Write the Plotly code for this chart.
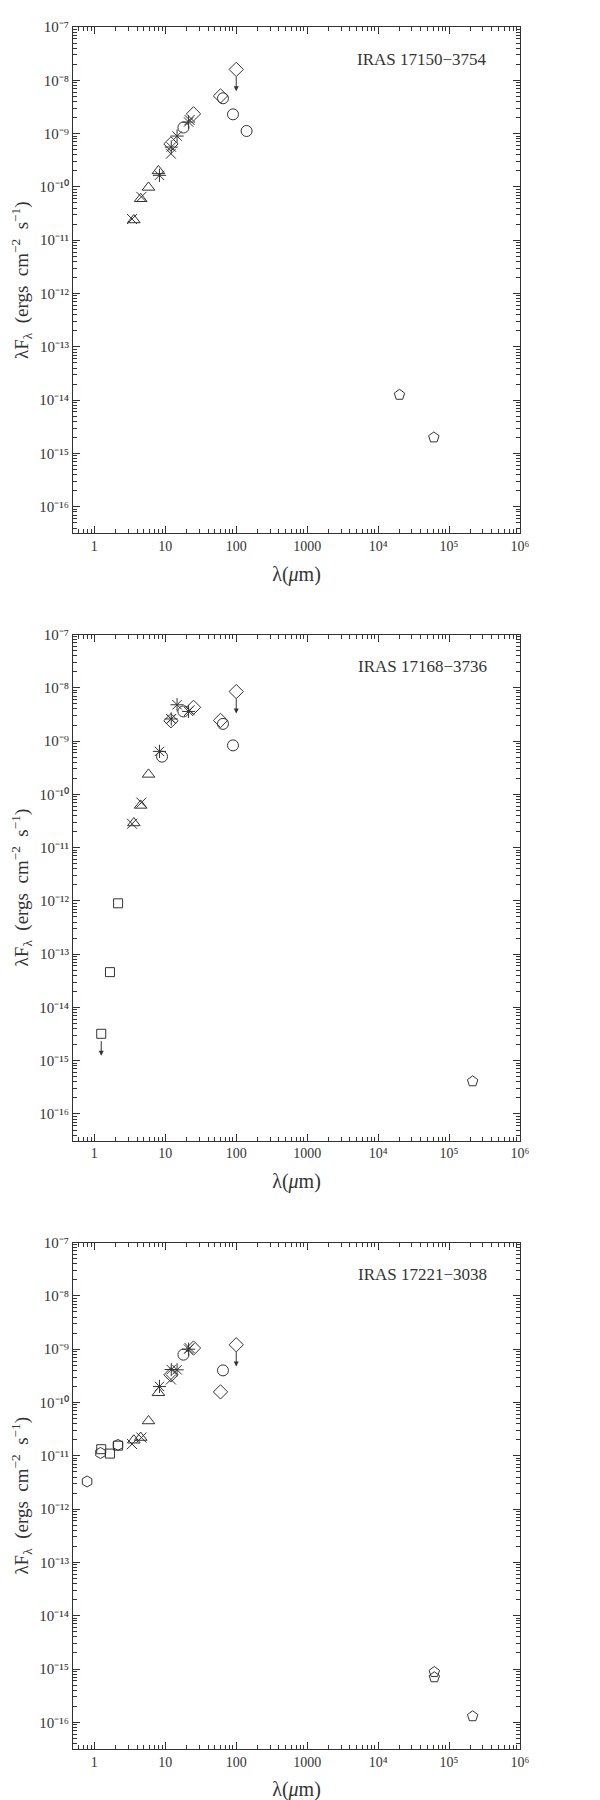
import math
import plotly.graph_objects as go

# ---------------- data ----------------
panel_names = ["IRAS 17150\u22123754", "IRAS 17168\u22123736", "IRAS 17221\u22123038"]

# Panel 1 : IRAS 17150-3754
p1_irac_x = [3.6, 4.5, 5.8, 8.0]
p1_irac_y = [2.4e-11, 6.0e-11, 9.8e-11, 2.0e-10]
p1_wise_x = [3.4, 4.6, 12, 22]
p1_wise_y = [2.5e-11, 6.5e-11, 4.2e-10, 1.8e-9]
p1_msx_x = [8.28, 12.13, 14.65, 21.3]
p1_msx_y = [1.65e-10, 5.6e-10, 9.0e-10, 1.65e-9]
p1_akari_x = [18, 65, 90, 140]
p1_akari_y = [1.3e-9, 4.6e-9, 2.3e-9, 1.12e-9]
p1_iras_x = [12, 25, 60]
p1_iras_y = [6.4e-10, 2.35e-9, 5.1e-9]
p1_iras_ul_x = [100]
p1_iras_ul_y = [1.6e-8]
p1_radio_x = [2.0e4, 6.1e4]
p1_radio_y = [1.26e-14, 2.0e-15]

# Panel 2 : IRAS 17168-3736
p2_2mass_x = [1.66, 2.16]
p2_2mass_y = [4.6e-14, 9.0e-13]
p2_2mass_ul_x = [1.25]
p2_2mass_ul_y = [3.2e-15]
p2_irac_x = [3.6, 4.5, 5.8]
p2_irac_y = [2.9e-11, 6.2e-11, 2.37e-10]
p2_wise_x = [3.4, 4.6, 12, 22]
p2_wise_y = [2.8e-11, 7.0e-11, 2.6e-9, 3.8e-9]
p2_msx_x = [8.28, 12.13, 14.65, 21.3]
p2_msx_y = [6.4e-10, 2.6e-9, 4.8e-9, 3.6e-9]
p2_akari_x = [9, 18, 65, 90]
p2_akari_y = [5.1e-10, 3.6e-9, 2.1e-9, 8.3e-10]
p2_iras_x = [12, 25, 60]
p2_iras_y = [2.4e-9, 4.3e-9, 2.44e-9]
p2_iras_ul_x = [100]
p2_iras_ul_y = [8.5e-9]
p2_radio_x = [2.15e5]
p2_radio_y = [4.1e-16]

# Panel 3 : IRAS 17221-3038
p3_denis_x = [0.79, 1.22, 2.15]
p3_denis_y = [3.3e-12, 1.13e-11, 1.6e-11]
p3_2mass_x = [1.25, 1.66, 2.16]
p3_2mass_y = [1.33e-11, 1.1e-11, 1.55e-11]
p3_irac_x = [3.6, 4.5, 5.8, 8.0]
p3_irac_y = [1.96e-11, 2.2e-11, 4.5e-11, 1.52e-10]
p3_wise_x = [3.4, 4.6, 12, 22]
p3_wise_y = [1.66e-11, 2.2e-11, 2.7e-10, 1.05e-9]
p3_msx_x = [8.28, 12.13, 14.65, 21.3]
p3_msx_y = [2.0e-10, 4.15e-10, 4.1e-10, 1.0e-9]
p3_akari_x = [18, 65]
p3_akari_y = [7.9e-10, 4.0e-10]
p3_iras_x = [12, 25, 60]
p3_iras_y = [3.3e-10, 1.05e-9, 1.58e-10]
p3_iras_ul_x = [100]
p3_iras_ul_y = [1.21e-9]
p3_radio_x = [6.2e4, 6.2e4, 2.15e5]
p3_radio_y = [8.8e-16, 7.0e-16, 1.3e-16]

x_tick_vals = [1, 10, 100, 1000, 1e4, 1e5, 1e6]
x_tick_text = ["1", "10", "100", "1000", "10\u2074", "10\u2075", "10\u2076"]
y_exponents = [-7, -8, -9, -10, -11, -12, -13, -14, -15, -16]
SUP = str.maketrans("0123456789-", "\u2070\u00b9\u00b2\u00b3\u2074\u2075\u2076\u2077\u2078\u2079\u207b")

# ---------------- style ----------------
INK = "#333333"
FONT = "Liberation Serif"
NB = "\u00a0"
styles = {
    "irac": dict(symbol="triangle-up-open", size=11),
    "wise": dict(symbol="x-thin-open", size=10),
    "msx": dict(symbol="asterisk-open", size=11),
    "akari": dict(symbol="circle-open", size=11),
    "iras": dict(symbol="diamond-open", size=11),
    "2mass": dict(symbol="square-open", size=9),
    "radio": dict(symbol="pentagon-open", size=11),
    "denis": dict(symbol="hexagon-open", size=11),
}

panels = [
    dict(series=[("irac", p1_irac_x, p1_irac_y), ("wise", p1_wise_x, p1_wise_y),
                 ("msx", p1_msx_x, p1_msx_y), ("akari", p1_akari_x, p1_akari_y),
                 ("iras", p1_iras_x, p1_iras_y), ("iras", p1_iras_ul_x, p1_iras_ul_y),
                 ("radio", p1_radio_x, p1_radio_y)],
         limits=[(p1_iras_ul_x, p1_iras_ul_y)]),
    dict(series=[("2mass", p2_2mass_x, p2_2mass_y), ("2mass", p2_2mass_ul_x, p2_2mass_ul_y),
                 ("irac", p2_irac_x, p2_irac_y), ("wise", p2_wise_x, p2_wise_y),
                 ("msx", p2_msx_x, p2_msx_y), ("akari", p2_akari_x, p2_akari_y),
                 ("iras", p2_iras_x, p2_iras_y), ("iras", p2_iras_ul_x, p2_iras_ul_y),
                 ("radio", p2_radio_x, p2_radio_y)],
         limits=[(p2_2mass_ul_x, p2_2mass_ul_y), (p2_iras_ul_x, p2_iras_ul_y)]),
    dict(series=[("denis", p3_denis_x, p3_denis_y), ("2mass", p3_2mass_x, p3_2mass_y),
                 ("irac", p3_irac_x, p3_irac_y), ("wise", p3_wise_x, p3_wise_y),
                 ("msx", p3_msx_x, p3_msx_y), ("akari", p3_akari_x, p3_akari_y),
                 ("iras", p3_iras_x, p3_iras_y), ("iras", p3_iras_ul_x, p3_iras_ul_y),
                 ("radio", p3_radio_x, p3_radio_y)],
         limits=[(p3_iras_ul_x, p3_iras_ul_y)]),
]

domains = [[0.7059, 1.0], [0.3533, 0.6472], [0.0, 0.2941]]

fig = go.Figure()
annotations = []

for i, p in enumerate(panels):
    xa = "x" if i == 0 else f"x{i+1}"
    ya = "y" if i == 0 else f"y{i+1}"
    for kind, xs, ys in p["series"]:
        st = styles[kind]
        fig.add_trace(go.Scatter(
            x=xs, y=ys, mode="markers", xaxis=xa, yaxis=ya, showlegend=False,
            marker=dict(symbol=st["symbol"], size=st["size"], color=INK,
                        line=dict(color=INK, width=1)),
        ))
    for xs, ys in p["limits"]:
        for xv, yv in zip(xs, ys):
            lx, ly = math.log10(xv), math.log10(yv)
            annotations.append(dict(
                x=lx, y=ly - 0.41, ax=lx, ay=ly - 0.11,
                xref=xa, yref=ya, axref=xa, ayref=ya,
                showarrow=True, arrowhead=2, arrowsize=1, arrowwidth=1,
                arrowcolor=INK, text="",
            ))
    annotations.append(dict(
        x=0.93, y=domains[i][1] - 0.0186, xref="paper", yref="paper",
        xanchor="right", yanchor="middle", showarrow=False,
        text=panel_names[i], font=dict(family=FONT, size=17, color=INK),
    ))

    axis_common = dict(
        type="log", showline=True, linecolor=INK, linewidth=1, mirror="allticks",
        ticks="inside", ticklen=7, tickwidth=1, tickcolor=INK, showgrid=False,
        zeroline=False,
    )
    xkey = "xaxis" if i == 0 else f"xaxis{i+1}"
    ykey = "yaxis" if i == 0 else f"yaxis{i+1}"
    fig.update_layout({
        xkey: dict(axis_common, range=[math.log10(0.5), 6], anchor=ya,
                   tickfont=dict(family=FONT, size=14, color=INK),
                   tickmode="array", tickvals=x_tick_vals, ticktext=x_tick_text,
                   minor=dict(dtick="D1", ticks="inside",
                              ticklen=4, tickcolor=INK, tickwidth=1),
                   title=dict(text="\u03bb(<i>\u03bc</i>m)", standoff=13,
                              font=dict(family=FONT, size=20, color=INK))),
        ykey: dict(axis_common, range=[-16.5, -7], domain=domains[i], anchor=xa,
                   tickfont=dict(family=FONT, size=15, color=INK),
                   tickmode="array", tickvals=[10.0 ** e for e in y_exponents],
                   ticktext=["10" + str(e).translate(SUP) for e in y_exponents],
                   minor=dict(dtick="D1", ticks="inside",
                              ticklen=4, tickcolor=INK, tickwidth=1),
                   title=dict(text="\u03bbF<sub>\u03bb</sub>" + NB * 2 + "(ergs" + NB * 2
                                   + "cm<sup>\u22122</sup>" + NB * 2 + "s<sup>\u22121</sup>)",
                              standoff=7, font=dict(family=FONT, size=19, color=INK))),
    })

fig.update_layout(
    width=600, height=1800,
    margin=dict(l=65, r=88, t=11, b=57),
    paper_bgcolor="white", plot_bgcolor="white",
    annotations=annotations,
    showlegend=False,
)

fig.write_html("out.html")
